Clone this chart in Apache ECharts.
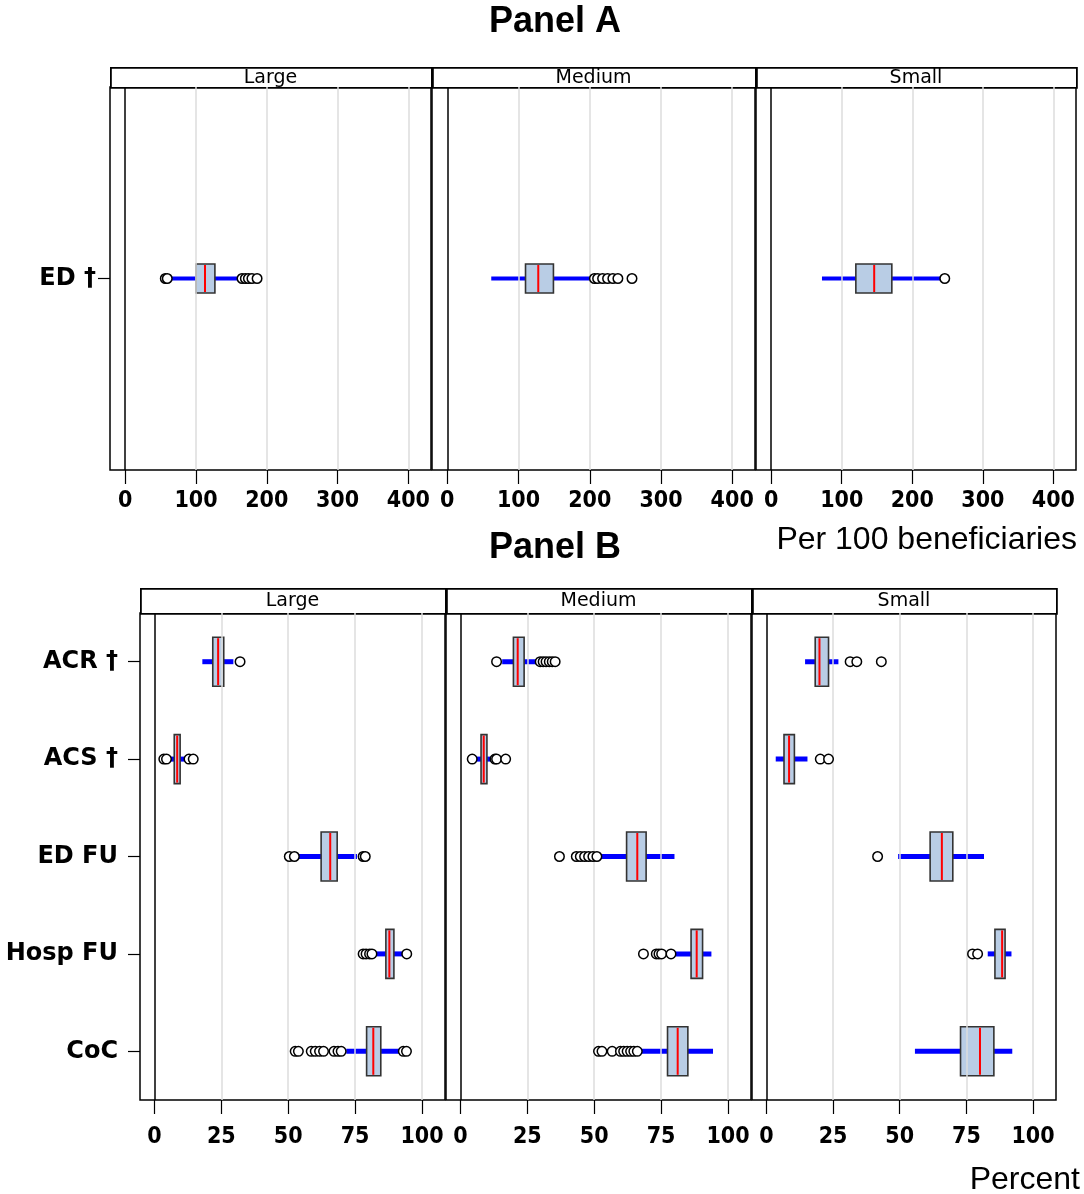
<!DOCTYPE html>
<html><head><meta charset="utf-8">
<script src="https://cdn.jsdelivr.net/npm/echarts@6/dist/echarts.min.js"></script>
<style>html,body{margin:0;padding:0;background:#fff}#c{width:1084px;height:1194px}</style>
</head><body><div id="c"></div>
<script>
const sizeGroups = ['Large', 'Medium', 'Small'];
const measuresA = ['ED †'];
const measuresB = ['ACR †', 'ACS †', 'ED FU', 'Hosp FU', 'CoC'];
const ticksA = [0, 100, 200, 300, 400];
const ticksB = [0, 25, 50, 75, 100];
const gridLinesA = [100, 200, 300, 400];
const gridLinesB = [25, 50, 75, 100];
// box stats: [lower whisker, Q1, median, Q3, upper whisker]
const boxA_Large  = [[63.6, 100, 112.7, 126.7, 162.7]];
const boxA_Medium = [[61.7, 109.8, 127.7, 149, 204]];
const boxA_Small  = [[72, 120, 146, 171, 241]];
const outA_Large  = [[56.6, 59.4, 165, 169.7, 174, 179, 186.3]];
const outA_Medium = [[206.5, 211, 218, 225, 232.4, 239.5, 259.3]];
const outA_Small  = [[246]];
const boxB_Large = [
  [17.9, 21.8, 23.8, 25.9, 29.5],
  [5.4, 7.4, 8.5, 9.6, 11.6],
  [53.6, 62.3, 65.7, 68.3, 75.7],
  [83, 86.5, 87.8, 89.5, 92.7],
  [71.7, 79.3, 81.8, 84.6, 92]
];
const boxB_Medium = [
  [15.6, 19.8, 21.4, 23.8, 28.5],
  [6, 7.7, 8.7, 9.9, 11.6],
  [51.9, 62.1, 66.1, 69.4, 80],
  [80.4, 86.2, 88.3, 90.5, 93.8],
  [67.3, 77.4, 81.2, 85, 94.4]
];
const boxB_Small = [
  [14.5, 18.3, 19.9, 23.3, 27],
  [3.5, 6.6, 8.5, 10.5, 15.4],
  [49.4, 61.4, 65.8, 69.9, 81.6],
  [83, 85.7, 88.4, 89.5, 91.9],
  [55.7, 72.8, 80.1, 85.3, 92.2]
];
const outB_Large = [
  [32],
  [3.5, 4.5, 12.9, 14.5],
  [50.4, 52.3, 78, 78.8],
  [78, 79.1, 80.4, 81.3, 94.3],
  [52.6, 53.8, 58.6, 60.1, 61.7, 63.2, 67.1, 68.6, 69.8, 93, 94.2]
];
const outB_Medium = [
  [13.5, 29.8, 30.9, 32, 33.2, 34.3, 35.4],
  [4.4, 12.9, 13.5, 16.9],
  [37, 43.3, 44.8, 46.4, 47.9, 49.5, 51],
  [68.4, 73.2, 74.2, 75.2, 78.7],
  [51.6, 52.9, 56.7, 59.8, 61, 62.3, 63.6, 64.8, 66.1]
];
const outB_Small = [
  [31.4, 33.9, 43.1],
  [20.2, 23.3],
  [41.7],
  [77.3, 79.2],
  []
];

const chart = echarts.init(document.getElementById('c'), null, {renderer: 'canvas'});
const tickFont = 'DejaVu Sans Condensed, DejaVu Sans';
const panels = [
  {grid: {left: 110, top: 87, width: 321, height: 383}, min: -21.5, max: 432, cats: measuresA, ticks: ticksA, lines: gridLinesA, box: boxA_Large, out: outA_Large, h: 29, wl: 4, first: true, name: sizeGroups[0], strip: 20, lm: 20},
  {grid: {left: 432, top: 87, width: 323, height: 383}, min: -21.5, max: 432, cats: measuresA, ticks: ticksA, lines: gridLinesA, box: boxA_Medium, out: outA_Medium, h: 29, wl: 4, name: sizeGroups[1], strip: 20, lm: 20},
  {grid: {left: 756, top: 87, width: 320, height: 383}, min: -21.5, max: 432, cats: measuresA, ticks: ticksA, lines: gridLinesA, box: boxA_Small, out: outA_Small, h: 29, wl: 4, name: sizeGroups[2], strip: 20, lm: 20},
  {grid: {left: 140, top: 613, width: 305, height: 487}, min: -5.4, max: 108.6, cats: measuresB, ticks: ticksB, lines: gridLinesB, box: boxB_Large, out: outB_Large, h: 49, wl: 5, first: true, name: sizeGroups[0], strip: 25, lm: 26},
  {grid: {left: 446, top: 613, width: 305, height: 487}, min: -5.4, max: 108.6, cats: measuresB, ticks: ticksB, lines: gridLinesB, box: boxB_Medium, out: outB_Medium, h: 49, wl: 5, name: sizeGroups[1], strip: 25, lm: 26},
  {grid: {left: 752, top: 613, width: 304, height: 487}, min: -5.4, max: 108.6, cats: measuresB, ticks: ticksB, lines: gridLinesB, box: boxB_Small, out: outB_Small, h: 49, wl: 5, name: sizeGroups[2], strip: 25, lm: 26}
];

const grid = [], xAxis = [], yAxis = [], series = [], graphic = [];
panels.forEach((p, i) => {
  grid.push(Object.assign({show: true, borderColor: '#000', borderWidth: 1.5, backgroundColor: '#fff'}, p.grid));
  xAxis.push({
    type: 'value', gridIndex: i, min: p.min, max: p.max,
    axisLine: {show: false, onZero: false},
    splitLine: {show: false},
    axisTick: {show: true, inside: false, length: 14, customValues: p.ticks, lineStyle: {color: '#000', width: 1.2}},
    axisLabel: {customValues: p.ticks, margin: p.lm, color: '#000', fontFamily: tickFont, fontWeight: 'bold', fontSize: 23}
  });
  yAxis.push({
    type: 'category', gridIndex: i, data: p.cats, inverse: true,
    axisLine: {show: false, onZero: false},
    axisTick: {show: !!p.first, alignWithLabel: true, length: 12, lineStyle: {color: '#000', width: 1.2}},
    axisLabel: {show: !!p.first, margin: p.cats.length > 1 ? 22 : 14, color: '#000', fontFamily: 'DejaVu Sans', fontWeight: 'bold', fontSize: 24},
    splitLine: {show: false}
  });
  const h = p.h, wl = p.wl;
  series.push({
    type: 'custom', xAxisIndex: i, yAxisIndex: i, z: 3,
    data: p.box.map((b, k) => [k].concat(b)),
    encode: {x: [1, 2, 3, 4, 5], y: 0},
    renderItem: function (params, api) {
      const c = api.value(0);
      const lo = api.coord([api.value(1), c]);
      const q1 = api.coord([api.value(2), c]);
      const md = api.coord([api.value(3), c]);
      const q3 = api.coord([api.value(4), c]);
      const hi = api.coord([api.value(5), c]);
      const y = lo[1];
      return {type: 'group', children: [
        {type: 'line', shape: {x1: lo[0], y1: y, x2: hi[0], y2: y}, style: {stroke: '#0000ff', lineWidth: wl}},
        {type: 'rect', shape: {x: q1[0], y: y - h / 2, width: q3[0] - q1[0], height: h}, style: {fill: '#b9cde5', stroke: '#333', lineWidth: 1.6}},
        {type: 'line', shape: {x1: md[0], y1: y - h / 2 + 1, x2: md[0], y2: y + h / 2 - 1}, style: {stroke: '#ff0000', lineWidth: 2}}
      ]};
    },
    markLine: {
      silent: true, symbol: 'none', label: {show: false}, animation: false,
      data: p.lines.map(v => ({xAxis: v, lineStyle: {color: '#dcdcdc', width: 1.5, type: 'solid'}}))
        .concat([{xAxis: 0, lineStyle: {color: '#000', width: 1.5, type: 'solid'}}])
    }
  });
  const pts = [];
  p.out.forEach((arr, k) => arr.forEach(v => pts.push([v, k])));
  series.push({
    type: 'scatter', xAxisIndex: i, yAxisIndex: i, z: 5, data: pts,
    symbol: 'circle', symbolSize: 9.5,
    itemStyle: {color: '#fff', borderColor: '#000', borderWidth: 1.5, opacity: 1}
  });
  graphic.push({
    type: 'rect', left: p.grid.left, top: p.grid.top - p.strip,
    shape: {width: p.grid.width, height: p.strip},
    style: {fill: '#fff', stroke: '#000', lineWidth: 1.8}
  });
  graphic.push({
    type: 'text', x: p.grid.left + p.grid.width / 2, y: p.grid.top - p.strip / 2 + 1,
    style: {text: p.name, fill: '#000', font: '19px "DejaVu Sans"', textAlign: 'center', textVerticalAlign: 'middle'}
  });
});
graphic.push({type: 'text', x: 555, y: 22, style: {text: 'Panel A', fill: '#000', font: 'bold 36px "Liberation Sans", Arial', textAlign: 'center', textVerticalAlign: 'middle'}});
graphic.push({type: 'text', x: 555, y: 548, style: {text: 'Panel B', fill: '#000', font: 'bold 36px "Liberation Sans", Arial', textAlign: 'center', textVerticalAlign: 'middle'}});
graphic.push({type: 'text', x: 1077, y: 540, style: {text: 'Per 100 beneficiaries', fill: '#000', font: '32px "Liberation Sans", Arial', textAlign: 'right', textVerticalAlign: 'middle'}});
graphic.push({type: 'text', x: 1080, y: 1180, style: {text: 'Percent', fill: '#000', font: '32px "Liberation Sans", Arial', textAlign: 'right', textVerticalAlign: 'middle'}});

chart.setOption({animation: false, backgroundColor: '#fff', grid, xAxis, yAxis, series, graphic});
</script></body></html>
